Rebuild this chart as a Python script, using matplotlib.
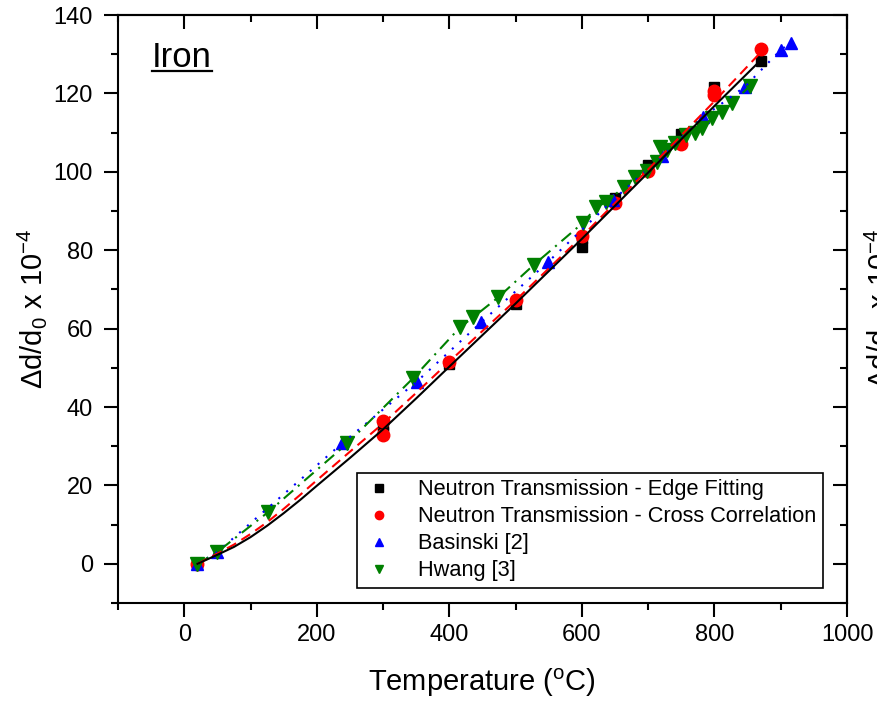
import matplotlib
matplotlib.use("Agg")
import matplotlib.pyplot as plt
from matplotlib.ticker import MultipleLocator
from matplotlib.lines import Line2D

plt.rcParams["font.family"] = ["Liberation Sans", "DejaVu Sans"]
plt.rcParams["mathtext.fontset"] = "custom"
plt.rcParams["mathtext.rm"] = "Liberation Sans"
plt.rcParams["mathtext.it"] = "Liberation Sans:italic"

# neutron transmission, Bragg edge fitting
edge_T = [20, 300, 300, 400, 500, 600, 600, 650, 700, 750, 800, 870]
edge_d = [0.0, 33.5, 35.5, 51.0, 66.3, 80.8, 83.0, 93.3, 101.7, 109.6, 121.7, 128.2]

# neutron transmission, cross correlation
xcor_T = [20, 300, 300, 400, 500, 600, 650, 700, 750, 800, 800, 870]
xcor_d = [0.0, 32.8, 36.5, 51.5, 67.3, 83.5, 92.0, 100.2, 107.0, 119.5, 120.5, 131.3]

# Basinski [2]
bas_T = [20, 50, 238, 351, 448, 549, 647, 721, 783, 846, 900, 915]
bas_d = [0.0, 3.0, 30.7, 46.5, 61.6, 77.0, 92.8, 104.0, 114.0, 121.7, 131.1, 132.9]

# Hwang [3]
hw_T = [20, 49, 126, 246, 345, 416, 436, 474, 527, 601, 622, 637, 664, 680, 698,
        713, 718, 728, 740, 757, 771, 781, 796, 812, 827, 854]
hw_d = [0.0, 2.9, 13.1, 30.7, 47.3, 60.3, 62.9, 68.0, 76.2, 86.9, 91.0, 92.3, 96.2,
        98.6, 100.3, 102.6, 106.4, 105.5, 107.3, 109.3, 110.0, 111.1, 113.7, 115.3,
        117.5, 122.0]

# fitted curves through the two neutron data sets
fit_T = [20, 50, 75, 100, 125, 150, 175, 200, 250, 300, 350, 400, 500, 600, 700,
         800, 870]
fit_edge = [0.0, 2.3, 4.3, 6.8, 9.7, 12.9, 16.3, 19.9, 27.0, 34.3, 42.2, 50.3, 66.4,
            82.9, 99.8, 116.8, 128.5]
fit_xcor = [0.0, 2.6, 4.9, 7.6, 10.6, 14.0, 17.6, 21.3, 28.6, 35.8, 43.6, 51.6, 67.2,
            83.5, 100.6, 118.0, 130.5]

fig = plt.figure(figsize=(8.77, 7.01), dpi=100)
ax = fig.add_axes([0.1345, 0.1398, 0.8313, 0.8388])

ms = 9
ax.plot(edge_T, edge_d, "s", color="black", ms=ms * 0.85, zorder=2)
ax.plot(xcor_T, xcor_d, "o", color="red", ms=ms, zorder=2)
ax.plot(bas_T, bas_d, "^", color="blue", ms=ms, zorder=2)
ax.plot(hw_T, hw_d, "v", color="green", ms=ms + 1, zorder=2)

ax.plot(bas_T, bas_d, color="blue", lw=1.5, ls=(0, (1, 4)), zorder=3)
ax.plot(hw_T, hw_d, color="green", lw=1.5, ls=(0, (6, 3, 1, 3)), zorder=3)
ax.plot(fit_T, fit_xcor, color="red", lw=1.5, ls=(0, (5, 3)), zorder=3)
ax.plot(fit_T, fit_edge, color="black", lw=1.5, zorder=4)

ax.set_xlim(-100, 1000)
ax.set_ylim(-10, 140)
ax.xaxis.set_major_locator(MultipleLocator(200))
ax.xaxis.set_minor_locator(MultipleLocator(100))
ax.yaxis.set_major_locator(MultipleLocator(20))
ax.yaxis.set_minor_locator(MultipleLocator(10))

for s in ax.spines.values():
    s.set_linewidth(1.5)
ax.tick_params(which="both", width=1.5, labelsize=17, direction="out",
               top=False, right=False)
ax.tick_params(which="major", length=10)
ax.tick_params(which="minor", length=5)
ax.tick_params(axis="x", pad=5)
ax.tick_params(axis="y", pad=8)

# mirrored ticks on top and right point inwards
sec_x = ax.secondary_xaxis("top")
sec_x.xaxis.set_major_locator(MultipleLocator(200))
sec_x.xaxis.set_minor_locator(MultipleLocator(100))
sec_x.tick_params(which="both", direction="in", width=1.5, labeltop=False)
sec_x.tick_params(which="major", length=10)
sec_x.tick_params(which="minor", length=5)
sec_x.spines["top"].set_linewidth(1.5)
sec_y = ax.secondary_yaxis("right")
sec_y.yaxis.set_major_locator(MultipleLocator(20))
sec_y.yaxis.set_minor_locator(MultipleLocator(10))
sec_y.tick_params(which="both", direction="in", width=1.5, labelright=False)
sec_y.tick_params(which="major", length=10)
sec_y.tick_params(which="minor", length=5)
sec_y.spines["right"].set_linewidth(1.5)

ylab = r"$\Delta$d/d$_0$ x 10$^{-4}$"
ax.set_xlabel(r"Temperature ($^{\rm o}$C)", fontsize=21, labelpad=15)
ax.set_ylabel(ylab, fontsize=21, labelpad=3)
# label of the neighbouring panel, cut by the figure edge
fig.text(862 / 877, 0.56, ylab, fontsize=21, rotation=90, ha="left", va="center")

ax.text(0.047, 0.9116, "Iron", transform=ax.transAxes, fontsize=25,
        ha="left", va="baseline")
fig.add_artist(Line2D([152 / 877, 212 / 877], [1 - 71 / 701, 1 - 71 / 701],
                      color="black", lw=1.6))

handles = [
    Line2D([], [], ls="none", marker="s", color="black", ms=6),
    Line2D([], [], ls="none", marker="o", color="red", ms=6),
    Line2D([], [], ls="none", marker="^", color="blue", ms=6),
    Line2D([], [], ls="none", marker="v", color="green", ms=6),
]
labels = ["Neutron Transmission - Edge Fitting",
          "Neutron Transmission - Cross Correlation",
          "Basinski [2]", "Hwang [3]"]
leg = ax.legend(handles, labels, loc="lower left", bbox_to_anchor=(0.328, 0.0255),
                fontsize=15.7, frameon=True, fancybox=False, framealpha=1,
                edgecolor="black", borderpad=0.3, labelspacing=0.28,
                handlelength=1.4, handletextpad=1.1, borderaxespad=0)
leg.get_frame().set_linewidth(1.2)

fig.savefig("out.png", dpi=100)
